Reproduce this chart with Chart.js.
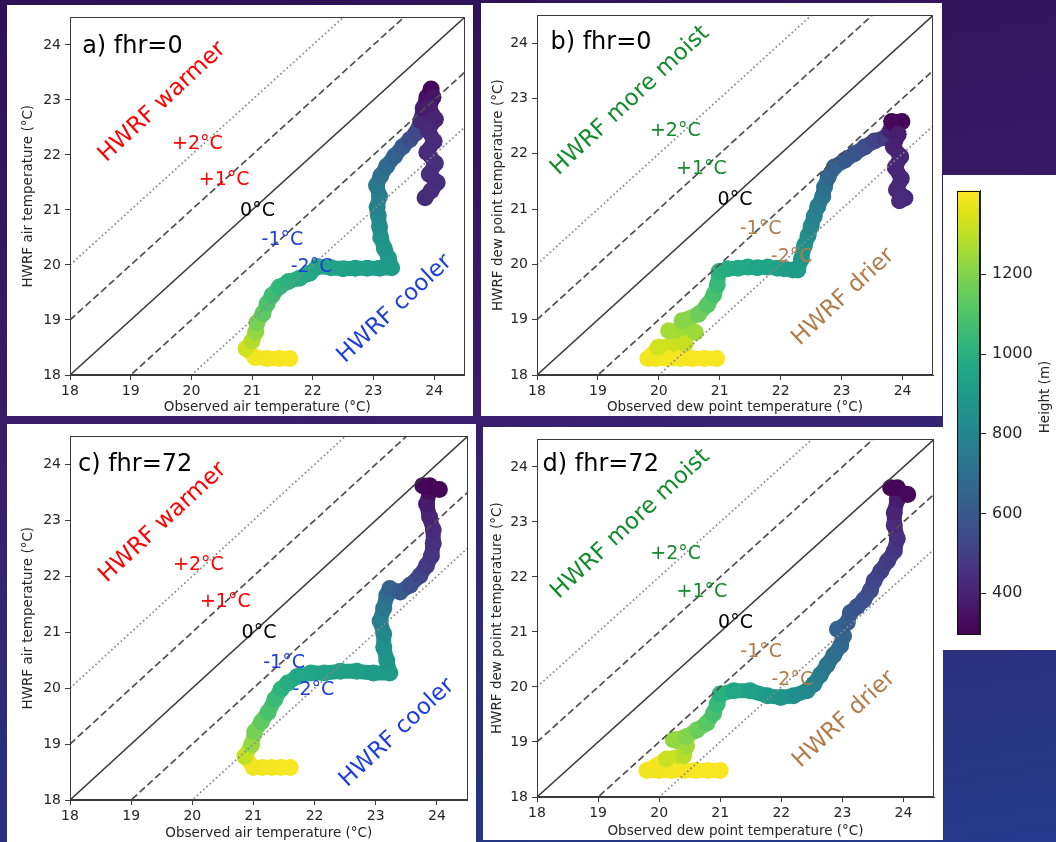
<!DOCTYPE html>
<html>
<head>
<meta charset="utf-8">
<script src="https://cdn.jsdelivr.net/npm/chart.js@4.4.1/dist/chart.umd.min.js"></script>
<style>
html,body{margin:0;padding:0}
body{width:1056px;height:842px;overflow:hidden;position:relative;
background:linear-gradient(170deg,#2e1054 0%,#3a1c6a 45%,#2b2f7c 75%,#24398c 100%);}
.panel{position:absolute;background:#fff}
.panel canvas{position:absolute;left:0;top:0}
</style>
</head>
<body>
<div class="panel" style="left:7px;top:5px;width:466px;height:411px"><canvas id="ca" width="466" height="411"></canvas></div>
<div class="panel" style="left:481px;top:3px;width:461px;height:413px"><canvas id="cb" width="461" height="413"></canvas></div>
<div class="panel" style="left:7px;top:424px;width:469px;height:418px"><canvas id="cc" width="469" height="418"></canvas></div>
<div class="panel" style="left:483px;top:427px;width:460px;height:413px"><canvas id="cd" width="460" height="413"></canvas></div>
<div class="panel" style="left:943px;top:175px;width:113px;height:475px"><canvas id="cbar" width="113" height="475"></canvas></div>
<script>
// ---------------- data ----------------
const xTicks = [18, 19, 20, 21, 22, 23, 24];
const yTicks = [18, 19, 20, 21, 22, 23, 24];
const heightTicks = [400, 600, 800, 1000, 1200];
const biasOffsets = [-2, -1, 0, 1, 2];   // °C lines y = x + k
const AX_MIN = 18, AX_MAX = 24.5;
const H_MIN = 297, H_MAX = 1410;

const panelLabels = ['a) fhr=0', 'b) fhr=0', 'c) fhr=72', 'd) fhr=72'];
const airTitles = ['Observed air temperature (°C)', 'HWRF air temperature (°C)'];
const dewTitles = ['Observed dew point temperature (°C)', 'HWRF dew point temperature (°C)'];
const airNoteText = ['HWRF warmer', '+2°C', '+1°C', '0°C', '-1°C', '-2°C', 'HWRF cooler'];
const dewNoteText = ['HWRF more moist', '+2°C', '+1°C', '0°C', '-1°C', '-2°C', 'HWRF drier'];

// panel a) air temperature, fhr=0
const aObs = [21.62,21.45,21.25,21.05,20.90,21.00,21.06,21.08,21.18,21.25,21.33,21.45,21.60,21.78,21.95,22.08,22.30,22.50,22.70,22.90,23.10,23.30,23.25,23.18,23.12,23.10,23.08,23.06,23.10,23.05,23.12,23.22,23.35,23.48,23.60,23.70,23.78,23.82,23.88,23.95,23.98,23.92,24.02,23.90,24.00,23.88,24.02,23.92,24.05,23.95,23.85];
const aHwrf = [18.30,18.30,18.30,18.32,18.48,18.62,18.78,18.95,19.12,19.30,19.45,19.60,19.70,19.76,19.85,19.97,19.95,19.93,19.94,19.94,19.94,19.95,20.12,20.30,20.50,20.70,20.90,21.05,21.25,21.45,21.62,21.80,21.98,22.15,22.28,22.40,22.62,22.85,23.05,23.20,23.05,22.85,22.65,22.45,22.25,22.05,21.85,21.65,21.50,21.35,21.22];
const aHeight = [1400,1398,1395,1390,1330,1280,1230,1185,1130,1095,1060,1030,1005,985,965,950,940,935,930,925,915,905,895,880,865,840,815,795,770,740,710,680,645,605,565,530,420,380,345,320,360,390,410,425,435,440,445,445,440,440,435];

// panel b) dew point, fhr=0
const bObs = [20.95,20.75,20.55,20.35,20.15,19.95,19.82,19.99,20.43,20.16,20.60,20.38,20.65,20.80,20.90,20.96,20.99,21.13,21.30,21.46,21.62,21.79,21.95,22.06,22.20,22.28,22.34,22.39,22.45,22.50,22.55,22.61,22.69,22.72,22.78,22.88,23.05,23.21,23.38,23.54,23.71,23.80,23.87,23.99,23.82,23.93,23.85,23.97,23.88,23.98,23.90,24.04,23.95];
const bHwrf = [18.30,18.30,18.30,18.30,18.30,18.30,18.30,18.50,18.56,18.80,18.77,18.98,19.10,19.27,19.45,19.63,19.87,19.92,19.93,19.95,19.94,19.95,19.93,19.92,19.90,19.90,20.10,20.34,20.52,20.69,20.87,21.05,21.23,21.40,21.58,21.76,21.88,22.00,22.12,22.23,22.29,22.42,22.53,22.58,22.58,22.35,22.12,21.95,21.75,21.55,21.35,21.20,21.15];
const bHeight = [1400,1400,1398,1396,1394,1392,1390,1330,1315,1260,1245,1210,1160,1115,1080,1045,1005,985,975,965,955,945,935,925,915,905,890,865,840,815,790,760,730,700,670,640,610,580,550,520,490,400,340,310,320,385,400,410,415,420,425,430,430];

// panel c) air temperature, fhr=72
const cObs = [21.60,21.45,21.30,21.15,21.00,20.86,20.97,21.02,21.13,21.24,21.35,21.45,21.56,21.72,21.94,22.16,22.42,22.69,22.96,23.23,23.18,23.13,23.13,23.07,23.13,23.18,23.23,23.40,23.56,23.72,23.83,23.91,23.94,23.94,23.88,23.83,23.88,23.88,23.77,24.04];
const cHwrf = [18.58,18.58,18.58,18.58,18.58,18.78,18.99,19.22,19.40,19.57,19.80,19.98,20.09,20.21,20.27,20.27,20.30,20.30,20.27,20.27,20.50,20.73,20.97,21.20,21.43,21.66,21.78,21.72,21.84,22.01,22.19,22.36,22.59,22.83,23.06,23.29,23.52,23.62,23.62,23.55];
const cHeight = [1400,1398,1396,1394,1390,1310,1230,1180,1130,1090,1050,1020,990,960,950,940,930,920,910,900,880,850,810,770,730,690,650,610,560,520,490,470,450,430,410,380,330,305,310,315];

// panel d) dew point, fhr=72
const dObs = [21.00,20.80,20.60,20.40,20.20,20.00,19.80,20.12,20.40,20.45,20.23,20.45,20.62,20.78,20.89,20.95,21.00,21.22,21.49,21.77,21.99,22.20,22.42,22.53,22.64,22.75,22.86,22.97,23.02,22.92,23.08,23.13,23.24,23.35,23.46,23.52,23.63,23.74,23.85,23.90,23.85,23.85,23.90,23.90,23.79,24.07];
const dHwrf = [18.48,18.48,18.48,18.48,18.48,18.48,18.48,18.69,18.75,18.93,19.04,19.10,19.22,19.34,19.52,19.69,19.87,19.93,19.93,19.84,19.81,19.84,19.93,20.05,20.22,20.40,20.58,20.75,20.93,21.05,21.17,21.35,21.46,21.58,21.76,21.93,22.11,22.29,22.47,22.70,22.94,23.17,23.41,23.62,23.62,23.50];
const dHeight = [1400,1400,1398,1396,1394,1392,1390,1320,1290,1250,1230,1200,1160,1120,1080,1040,1000,960,930,900,880,850,820,790,760,730,700,680,660,640,620,600,585,570,550,530,505,485,470,450,430,410,380,305,310,320];

// ---------------- styling ----------------
const FONT = "'DejaVu Sans', 'Liberation Sans', sans-serif";
const TXT = '#262626', AXC = '#3a3a3a';
const RED = '#ff0000', BLUE = '#1d3fd8', GREEN = '#138a2c', BROWN = '#b07c4a';
const VIR = ['#440154','#471365','#482475','#463480','#414487','#3b528b','#355f8d','#2f6c8e','#2a788e','#25848e','#21918c','#1e9c89','#22a884','#2fb47c','#44bf70','#5ec962','#7ad151','#9bd93c','#bddf26','#dfe318','#fde725'];

function hexRGB(h){return [parseInt(h.slice(1,3),16),parseInt(h.slice(3,5),16),parseInt(h.slice(5,7),16)];}
function viridis(t){
  t = Math.min(1, Math.max(0, t));
  const n = VIR.length - 1, f = t * n, i = Math.min(n - 1, Math.floor(f)), u = f - i;
  const a = hexRGB(VIR[i]), b = hexRGB(VIR[i + 1]);
  return 'rgb(' + a.map((v, k) => Math.round(v + (b[k] - v) * u)).join(',') + ')';
}
function heightColor(h){ return viridis((h - H_MIN) / (H_MAX - H_MIN)); }

function biasStyle(k){
  if (k === 0) return {color:'#3a3a3a', width:1.5, dash:[]};
  if (Math.abs(k) === 1) return {color:'#505050', width:1.7, dash:[7, 3.5]};
  return {color:'#8a8a8a', width:1.7, dash:[1.7, 2.6]};
}

// annotation placement (data coordinates) – layout, not data
const airNoteLayout = [
  {x:19.52, y:22.96, rot:43, size:23, color:RED},
  {x:20.10, y:22.20, rot:0, size:19, color:RED},
  {x:20.54, y:21.54, rot:0, size:19, color:RED},
  {x:21.09, y:20.98, rot:0, size:19, color:'#000'},
  {x:21.50, y:20.45, rot:0, size:19, color:BLUE},
  {x:21.98, y:19.96, rot:0, size:19, color:BLUE},
  {x:23.35, y:19.20, rot:43, size:23, color:BLUE}
];
const dewNoteLayout = [
  {x:19.53, y:22.96, rot:43, size:23, color:GREEN},
  {x:20.27, y:22.41, rot:0, size:19, color:GREEN},
  {x:20.70, y:21.72, rot:0, size:19, color:GREEN},
  {x:21.25, y:21.17, rot:0, size:19, color:'#000'},
  {x:21.67, y:20.63, rot:0, size:19, color:BROWN},
  {x:22.18, y:20.13, rot:0, size:19, color:BROWN},
  {x:23.03, y:19.41, rot:43, size:23, color:BROWN}
];

function decoPlugin(p){
  return {
    id:'deco',
    afterDatasetsDraw(chart){
      const {ctx, chartArea:a, scales:{x, y}} = chart;
      ctx.save();
      ctx.strokeStyle = AXC; ctx.lineWidth = 1; ctx.setLineDash([]);
      ctx.strokeRect(Math.round(a.left) + 0.5, Math.round(a.top) + 0.5, Math.round(a.right - a.left) - 1, Math.round(a.bottom - a.top) - 1);
      p.noteText.forEach((t, i) => {
        const L = p.noteLayout[i];
        ctx.save();
        ctx.translate(x.getPixelForValue(L.x), y.getPixelForValue(L.y));
        ctx.rotate(-L.rot * Math.PI / 180);
        ctx.font = L.size + 'px ' + FONT;
        ctx.fillStyle = L.color; ctx.textAlign = 'center'; ctx.textBaseline = 'middle';
        ctx.fillText(t, 0, 0);
        ctx.restore();
      });
      ctx.font = '24px ' + FONT; ctx.fillStyle = '#000';
      ctx.textAlign = 'left'; ctx.textBaseline = 'alphabetic';
      ctx.fillText(p.label, x.getPixelForValue(p.labelPos[0]), y.getPixelForValue(p.labelPos[1]));
      ctx.restore();
    }
  };
}

function makePanel(id, p){
  const cols = p.height.map(heightColor);
  const pts = p.obs.map((v, i) => ({x:v, y:p.hwrf[i]}));
  const datasets = [{
    data: pts, order: 10, showLine: true, fill: false, tension: 0,
    borderWidth: 15, borderCapStyle: 'round', borderJoinStyle: 'round', borderColor: cols[0],
    segment: {borderColor: c => cols[c.p0DataIndex]},
    pointRadius: 8.5, pointHoverRadius: 8.5, pointBackgroundColor: cols, pointBorderColor: cols, pointBorderWidth: 0,
    clip: 0
  }];
  biasOffsets.forEach(k => {
    const s = biasStyle(k);
    datasets.push({
      data: [{x:AX_MIN, y:AX_MIN + k}, {x:AX_MAX, y:AX_MAX + k}],
      order: 1, showLine: true, fill: false, tension: 0,
      borderColor: s.color, borderWidth: s.width, borderDash: s.dash, borderCapStyle: 'butt',
      pointRadius: 0, pointHoverRadius: 0, clip: 0
    });
  });
  const axisCommon = (ticksArr, title, fitFn, titlePad) => ({
    type: 'linear', min: AX_MIN, max: AX_MAX,
    afterBuildTicks: s => { s.ticks = ticksArr.map(v => ({value:v})); },
    afterFit: fitFn,
    ticks: {autoSkip:false, maxRotation:0, padding:3, color:TXT, font:{family:FONT, size:14}, callback: v => String(v)},
    grid: {drawOnChartArea:false, drawTicks:true, tickLength:5, tickColor:AXC, tickWidth:1},
    border: {display:true, color:AXC, width:1},
    title: {display:true, text:title, color:TXT, font:{family:FONT, size:13.5}, padding:titlePad}
  });
  const xAxis = axisCommon(xTicks, p.titles[0], s => { s.height = p.xH; }, {top:0, bottom:0});
  const yAxis = axisCommon(yTicks, p.titles[1], s => { s.width = p.yW; }, {top:p.yTitlePad, bottom:0});
  yAxis.ticks.padding = 4;
  new Chart(document.getElementById(id), {
    type: 'line',
    data: {datasets},
    options: {
      responsive: false, animation: false, events: [],
      layout: {padding: {top:p.padTop, right:p.padRight, left:0, bottom:0}},
      plugins: {legend:{display:false}, tooltip:{enabled:false}},
      scales: {x: xAxis, y: yAxis}
    },
    plugins: [decoPlugin(p)]
  });
}

makePanel('ca', {obs:aObs, hwrf:aHwrf, height:aHeight, titles:airTitles, noteText:airNoteText, noteLayout:airNoteLayout,
  label:panelLabels[0], labelPos:[18.2, 23.85], padTop:1, padRight:5, yW:63, xH:41, yTitlePad:13});
makePanel('cb', {obs:bObs, hwrf:bHwrf, height:bHeight, titles:dewTitles, noteText:dewNoteText, noteLayout:dewNoteLayout,
  label:panelLabels[1], labelPos:[18.22, 23.89], padTop:6, padRight:9, yW:56, xH:41, yTitlePad:9});
makePanel('cc', {obs:cObs, hwrf:cHwrf, height:cHeight, titles:airTitles, noteText:airNoteText, noteLayout:airNoteLayout,
  label:panelLabels[2], labelPos:[18.13, 23.88], padTop:3, padRight:4, yW:63, xH:42, yTitlePad:13});
makePanel('cd', {obs:dObs, hwrf:dHwrf, height:dHeight, titles:dewTitles, noteText:dewNoteText, noteLayout:dewNoteLayout,
  label:panelLabels[3], labelPos:[18.09, 23.92], padTop:4, padRight:9, yW:54, xH:43, yTitlePad:6});

// ---------------- colorbar ----------------
new Chart(document.getElementById('cbar'), {
  type: 'bar',
  data: {labels: [''], datasets: [{
    data: [[H_MIN, H_MAX]], borderWidth: 0, barPercentage: 1, categoryPercentage: 1,
    backgroundColor: c => {
      const a = c.chart.chartArea; if (!a) return '#21918c';
      const g = c.chart.ctx.createLinearGradient(0, a.bottom, 0, a.top);
      VIR.forEach((h, i) => g.addColorStop(i / (VIR.length - 1), h));
      return g;
    }
  }]},
  options: {
    responsive: false, animation: false, events: [],
    layout: {padding: {left:14, top:7, bottom:13, right:0}},
    plugins: {legend:{display:false}, tooltip:{enabled:false}},
    scales: {
      x: {display:false},
      y: {position:'right', min:H_MIN, max:H_MAX,
        afterBuildTicks: s => { s.ticks = heightTicks.map(v => ({value:v})); },
        afterFit: s => { s.width = 76; },
        ticks: {padding:6, color:TXT, font:{family:FONT, size:16}, callback: v => String(v)},
        grid: {drawOnChartArea:false, tickLength:6, tickColor:'#222'},
        border: {display:true, color:'#222'}}
    }
  },
  plugins: [{
    id:'cbdeco',
    afterDatasetsDraw(chart){
      const {ctx, chartArea:a} = chart;
      ctx.save();
      ctx.strokeStyle = '#111'; ctx.lineWidth = 1;
      ctx.strokeRect(Math.round(a.left) + 0.5, Math.round(a.top) + 0.5, Math.round(a.right - a.left) - 1, Math.round(a.bottom - a.top) - 1);
      ctx.translate(102, 222); ctx.rotate(-Math.PI / 2);
      ctx.font = '13.5px ' + FONT; ctx.fillStyle = TXT; ctx.textAlign = 'center'; ctx.textBaseline = 'middle';
      ctx.fillText('Height (m)', 0, 0);
      ctx.restore();
    }
  }]
});
</script>
</body>
</html>
